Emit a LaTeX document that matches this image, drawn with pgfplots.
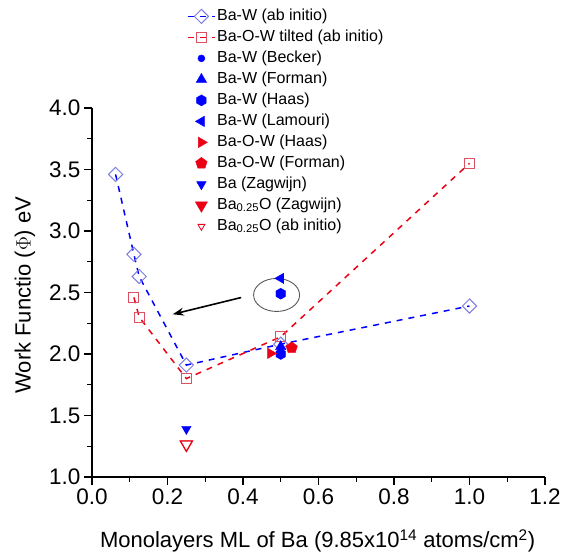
\documentclass[border=0pt]{standalone}
\usepackage{pgfplots}
\pgfplotsset{compat=1.18}
\usepackage{fontspec}
\setmainfont{Liberation Sans}
\usetikzlibrary{arrows.meta,plotmarks}
\definecolor{bw}{RGB}{0,0,255}
\definecolor{rw}{RGB}{235,0,20}
\definecolor{dia}{RGB}{125,125,225}
\definecolor{sq}{RGB}{220,80,100}
\pgfdeclareplotmark{hexagon*}{%
  \pgfpathmoveto{\pgfpointpolar{90}{\pgfplotmarksize}}%
  \pgfpathlineto{\pgfpointpolar{150}{\pgfplotmarksize}}%
  \pgfpathlineto{\pgfpointpolar{210}{\pgfplotmarksize}}%
  \pgfpathlineto{\pgfpointpolar{270}{\pgfplotmarksize}}%
  \pgfpathlineto{\pgfpointpolar{330}{\pgfplotmarksize}}%
  \pgfpathlineto{\pgfpointpolar{30}{\pgfplotmarksize}}%
  \pgfpathclose
  \pgfusepathqfillstroke}
\begin{document}
\begin{tikzpicture}
\path[use as bounding box] (-92pt,-82pt) rectangle (470pt,477pt);
\begin{axis}[
  scale only axis, width=453pt, height=369pt,
  xmin=0, xmax=1.2, ymin=1, ymax=4,
  axis x line*=bottom, axis y line*=left,
  axis line style={line width=1.6pt},
  clip=false,
  xtick={0,0.2,...,1.2}, ytick={1,1.5,...,4},
  minor x tick num=1, minor y tick num=1,
  tick align=outside,
  major tick length=8pt, minor tick length=4.5pt,
  tick style={line width=1.4pt, black},
  /pgf/number format/assume math mode=true,
  /pgf/number format/.cd, fixed, fixed zerofill, precision=1, /pgfplots/.cd,
  tick label style={font=\fontsize{22.5}{26}\selectfont},
  xlabel={Monolayers ML of Ba (9.85x10\textsuperscript{14} atoms/cm\textsuperscript{2})},
  ylabel={Work Functio ($\Phi$) eV},
  label style={font=\fontsize{22}{26}\selectfont},
  xlabel style={at={(axis description cs:0.498,-0.173)}, anchor=center},
  ylabel style={at={(axis description cs:-0.148,0.493)}, anchor=center},
  legend style={draw=none, fill=none, at={(axis description cs:0.203,1.28)}, anchor=north west,
    font=\fontsize{16}{18}\selectfont, row sep=2pt,
    nodes={inner sep=1.5pt, text height=12pt, text depth=4pt}},
  legend cell align=left,
  legend image code/.code={\draw[mark repeat=2,mark phase=2] plot coordinates {(0pt,0pt) (13.5pt,0pt) (27pt,0pt)};},
]
\addplot[bw, line width=1.5pt, dash pattern=on 6pt off 6pt, mark=square, mark size=5pt,
  mark options={dia, solid, line width=1pt, rotate=45, fill=white}]
  coordinates {(0.0625,3.46) (0.111,2.81) (0.125,2.63) (0.25,1.91) (0.5,2.08) (1.0,2.39)};
\addlegendentry{Ba-W (ab initio)}
\addplot[rw, line width=1.5pt, dash pattern=on 6pt off 6pt, mark=square, mark size=5pt,
  mark options={sq, solid, line width=1pt, fill=white}]
  coordinates {(0.111,2.46) (0.125,2.30) (0.25,1.80) (0.5,2.14) (1.0,3.55)};
\addlegendentry{Ba-O-W tilted (ab initio)}
\addplot[only marks, bw, mark=*, mark size=3.5pt] coordinates {(0.5,2.0)};
\addlegendentry{Ba-W (Becker)}
\addplot[only marks, bw, mark=triangle*, mark size=6pt] coordinates {(0.5,2.06)};
\addlegendentry{Ba-W (Forman)}
\addplot[only marks, bw, mark=hexagon*, mark size=5.5pt] coordinates {(0.5,2.0) (0.5,2.49)};
\addlegendentry{Ba-W (Haas)}
\addplot[only marks, bw, mark=triangle*, mark size=6pt, mark options={rotate=90}] coordinates {(0.5,2.615)};
\addlegendentry{Ba-W (Lamouri)}
\addplot[only marks, rw, mark=triangle*, mark size=6pt, mark options={rotate=-90}] coordinates {(0.473,2.005)};
\addlegendentry{Ba-O-W (Haas)}
\addplot[only marks, rw, mark=pentagon*, mark size=6pt] coordinates {(0.529,2.05)};
\addlegendentry{Ba-O-W (Forman)}
\addplot[only marks, bw, mark=triangle*, mark size=5.5pt, mark options={rotate=180}] coordinates {(0.25,1.39)};
\addlegendentry{Ba (Zagwijn)}
\addplot[only marks, rw, mark=triangle*, mark size=7pt, mark options={rotate=180}] coordinates {(0.25,1.265)};
\addlegendentry{Ba\textsubscript{0.25}O (Zagwijn)}
\addplot[only marks, mark=triangle*, mark size=7pt, mark options={rotate=180, draw=rw, fill=white, line width=1.3pt},
  legend image post style={mark size=4pt, mark options={rotate=180, draw=rw, fill=white, line width=0.8pt}}] coordinates {(0.25,1.265)};
\addlegendentry{Ba\textsubscript{0.25}O (ab initio)}
\draw[black!65, line width=0.9pt] (axis cs:0.489,2.48) ellipse [x radius=23pt, y radius=16.5pt];
\draw[-{Stealth[length=11pt,width=8pt]}, line width=1.6pt] (axis cs:0.395,2.459) -- (axis cs:0.214,2.323);
\end{axis}
\end{tikzpicture}
\end{document}
